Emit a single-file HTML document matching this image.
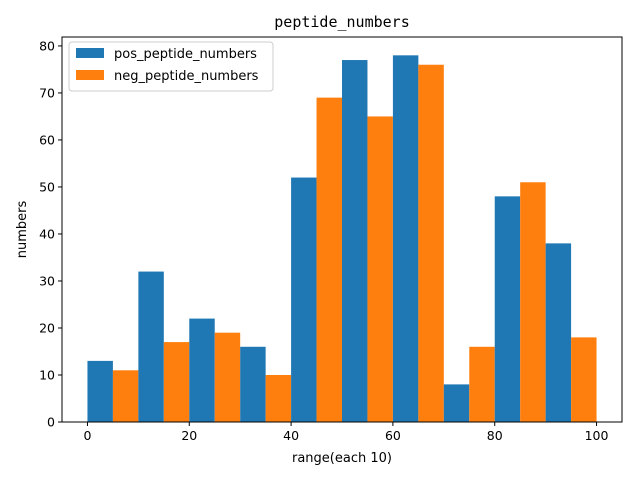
<!DOCTYPE html>
<html><head><meta charset="utf-8"><style>
body{margin:0;background:#fff;}
svg{display:block;font-family:"DejaVu Sans","Liberation Sans",sans-serif;}
</style></head><body>
<svg id="chart" width="640" height="480"></svg>
<script>
const binStarts=[0,10,20,30,40,50,60,70,80,90];
const posValues=[13,32,22,16,52,77,78,8,48,38];
const negValues=[11,17,19,10,69,65,76,16,51,18];
const xTicks=[0,20,40,60,80,100];
const yTicks=[0,10,20,30,40,50,60,70,80];
const svg=document.getElementById('chart');
const NS='http://www.w3.org/2000/svg';
const L=62,R=622,T=37,B=422;
const xMin=-5,xMax=105,yMax=81.9;
const sx=v=>L+(v-xMin)/(xMax-xMin)*(R-L);
const sy=v=>B-v/yMax*(B-T);
function mk(tag,attrs,parent){const e=document.createElementNS(NS,tag);for(const k in attrs)e.setAttribute(k,attrs[k]);(parent||svg).appendChild(e);return e;}
const bars=mk('g',{});


binStarts.forEach((b,i)=>{
  const r1=mk('rect',{x:sx(b),y:sy(posValues[i]),width:sx(b+5)-sx(b),height:B-sy(posValues[i]),fill:'#1f77b4'},bars);
  
  
  const r2=mk('rect',{x:sx(b+5),y:sy(negValues[i]),width:sx(b+10)-sx(b+5),height:B-sy(negValues[i]),fill:'#ff7f0e'},bars);
  
  
});
const frame=mk('rect',{x:L,y:T,width:R-L,height:B-T,fill:'none',stroke:'#000','stroke-width':1});


xTicks.forEach(t=>{
  mk('line',{x1:sx(t),x2:sx(t),y1:B,y2:B+4,stroke:'#000'});
  const tx=mk('text',{x:sx(t),y:B+18,'text-anchor':'middle','font-size':12.5});
  tx.textContent=t;
  
  
});
yTicks.forEach(t=>{
  mk('line',{x1:L-4,x2:L,y1:sy(t),y2:sy(t),stroke:'#000'});
  const tx=mk('text',{x:L-7,y:sy(t)+4.5,'text-anchor':'end','font-size':12.5});
  tx.textContent=t;
  
  
});
const xt=mk('text',{x:(L+R)/2,y:462,'text-anchor':'middle','font-size':13});
xt.textContent='range(each 10)';


const yt=mk('text',{x:26,y:(T+B)/2,'text-anchor':'middle','font-size':13,transform:'rotate(-90 26 '+((T+B)/2)+')'});
yt.textContent='numbers';


const ti=mk('text',{x:(L+R)/2,y:27,'text-anchor':'middle','font-size':15,'font-family':'"DejaVu Sans Mono","Liberation Mono",monospace'});
ti.textContent='peptide_numbers';


const lg=mk('g',{});


mk('rect',{x:69,y:42,width:204,height:49,rx:3,fill:'#fff',stroke:'#ccc'},lg);
mk('rect',{x:76,y:48,width:28,height:10,fill:'#1f77b4'},lg);
mk('rect',{x:76,y:70,width:28,height:10,fill:'#ff7f0e'},lg);
const l1=mk('text',{x:114,y:58,'font-size':13},lg);l1.textContent='pos_peptide_numbers';


const l2=mk('text',{x:114,y:80,'font-size':13},lg);l2.textContent='neg_peptide_numbers';


</script>
</body></html>
